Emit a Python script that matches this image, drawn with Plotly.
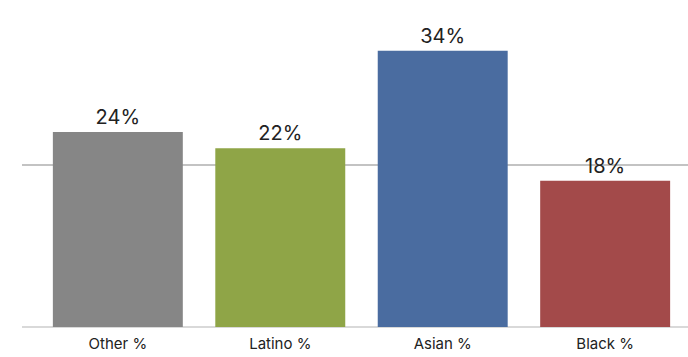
import plotly.graph_objects as go

categories = ["Other %", "Latino %", "Asian %", "Black %"]
values = [24, 22, 34, 18]
labels = ["24%", "22%", "34%", "18%"]
colors = ["#868686", "#8fa547", "#4a6ca0", "#a34a4a"]

fig = go.Figure(go.Bar(
    x=categories, y=values, text=labels, textposition="outside",
    marker=dict(color=colors, line=dict(width=0)),
    textfont=dict(size=20, color="#222222", family="Inter, Lato, sans-serif"),
    cliponaxis=False, width=0.8,
))
fig.update_layout(
    width=688, height=357, margin=dict(l=22, r=0, t=2, b=30),
    plot_bgcolor="white", paper_bgcolor="white", showlegend=False,
    font=dict(family="Inter, Lato, sans-serif", color="#222222"),
)
fig.update_xaxes(range=[-0.59, 3.51], showgrid=False, showline=False, ticks="",
                 tickfont=dict(size=15, color="#222222"), ticklabelstandoff=6)
fig.update_yaxes(range=[0, 40], tickvals=[20], showticklabels=False, showgrid=True,
                 gridcolor="#c3c3c3", gridwidth=2, zeroline=True, zerolinecolor="#d9d9d9",
                 zerolinewidth=2, showline=False)
fig.write_html("out.html", config={"displayModeBar": False},
               post_script="document.body.style.margin='0';")
